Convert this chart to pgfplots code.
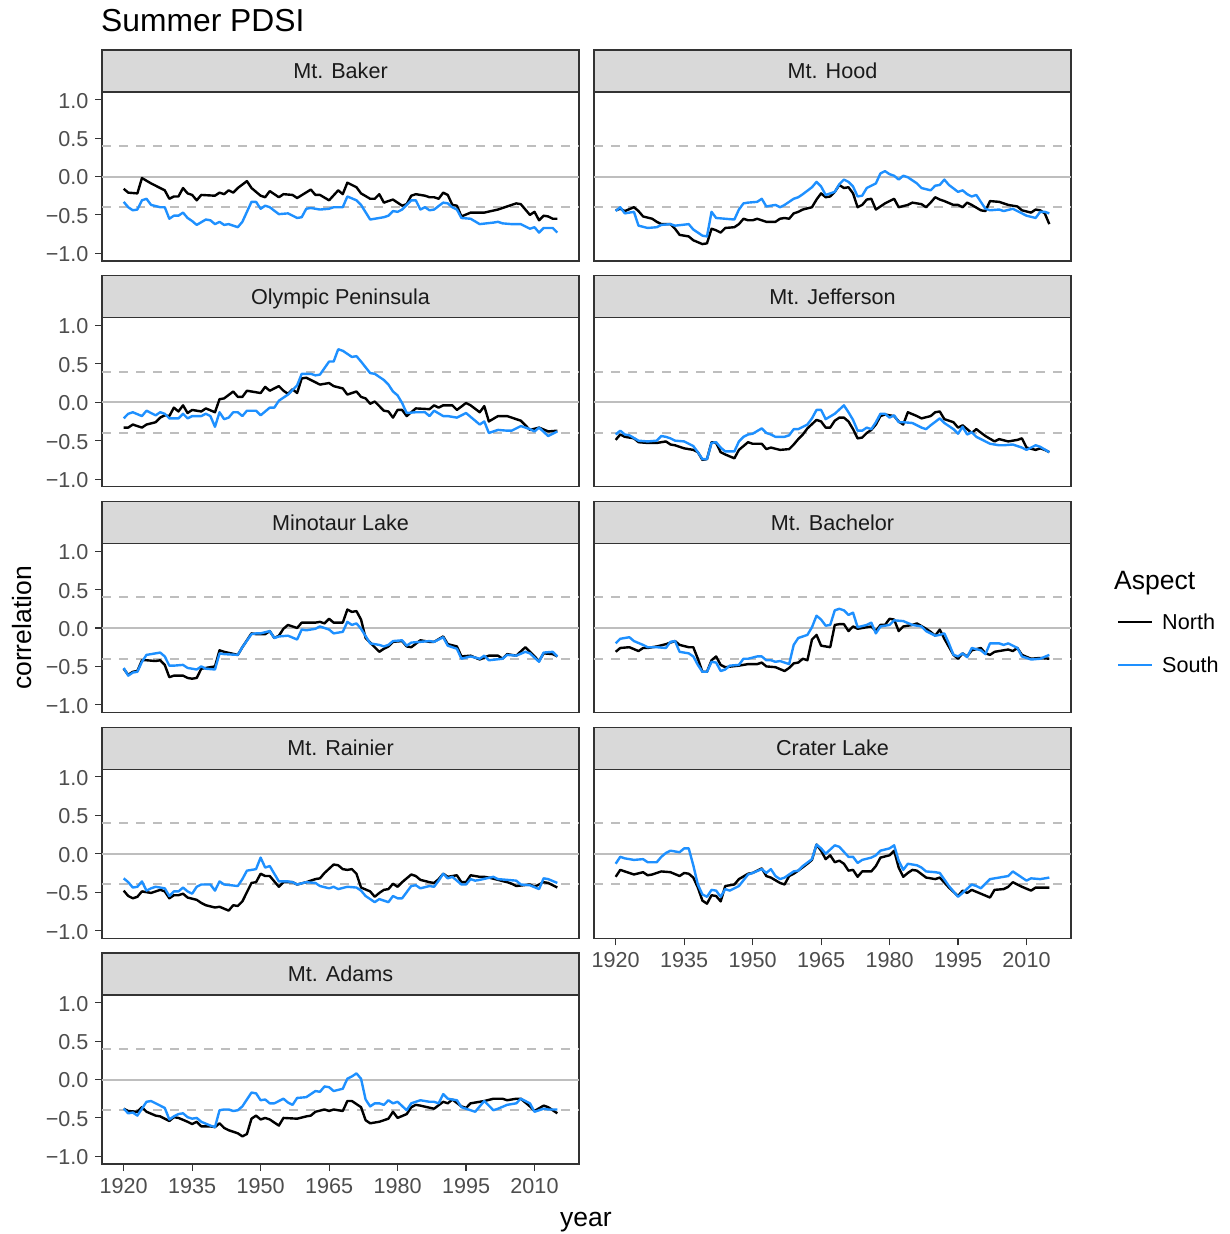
\documentclass[border=0pt]{standalone}
\usepackage{pgfplots}
\pgfplotsset{compat=1.18}
\usepackage{fontspec}
\setmainfont{Liberation Sans}
\definecolor{axisgray}{HTML}{333333}
\definecolor{labelgray}{HTML}{4D4D4D}
\definecolor{stripgray}{HTML}{D9D9D9}
\definecolor{striptext}{HTML}{1A1A1A}
\definecolor{refgray}{HTML}{BEBEBE}
\definecolor{southblue}{HTML}{1E90FF}
\newcommand\ticksize{\fontsize{21.6pt}{24pt}\selectfont}
\pgfplotsset{
  panel/.style={scale only axis, width=477pt, height=169pt,
    xmin=1915.25, xmax=2019.75, ymin=-1.1, ymax=1.1,
    anchor=north west,
    axis line style={draw=axisgray, line width=1.1pt},
    tick style={draw=axisgray, line width=1.1pt},
    major tick length=7pt, tick align=outside, tick pos=left,
    xtick=\empty, ytick=\empty,
    ticklabel style={font=\ticksize, text=labelgray},
    xticklabel style={yshift=-4pt},
    yticklabel style={xshift=-3pt, yshift=-1pt},
  },
  lefty/.style={ytick={-1,-0.5,0,0.5,1}, yticklabels={−1.0,−0.5,0.0,0.5,1.0}},
  bottomx/.style={xtick={1920,1935,1950,1965,1980,1995,2010},
    xticklabels={1920,1935,1950,1965,1980,1995,2010}},
  north/.style={black, line width=2.4pt, line join=round},
  south/.style={southblue, line width=2.4pt, line join=round},
}
\newcommand\refl{%
  \addplot[refgray, line width=2pt, forget plot] coordinates {(1915.25,0) (2019.75,0)};
  \addplot[refgray, line width=2pt, dash pattern=on 9pt off 8pt, forget plot] coordinates {(1915.25,0.4) (2019.75,0.4)};
  \addplot[refgray, line width=2pt, dash pattern=on 9pt off 8pt, forget plot] coordinates {(1915.25,-0.4) (2019.75,-0.4)};
}
\newcommand\strip[2]{%
  \draw[fill=stripgray, draw=axisgray, line width=1.1pt] (#1.north west) rectangle ([yshift=42pt]#1.north east);
  \node[font=\ticksize, text=striptext, anchor=base, inner sep=0pt] at ([yshift=13.3pt]#1.north) {#2};
}
\begin{document}
\begin{tikzpicture}
\useasboundingbox (0,0) rectangle (1229pt,-1234pt);

% Mt. Baker
\begin{axis}[panel, lefty, at={(102pt,-92pt)}, name=p1]
\refl
\addplot[north] coordinates {(1920,-0.16)(1921,-0.21)(1923,-0.22)(1924,-0.02)(1926,-0.09)(1929,-0.18)(1930,-0.29)(1931,-0.26)(1932,-0.26)(1933,-0.15)(1934,-0.22)(1935,-0.24)(1936,-0.31)(1937,-0.24)(1940,-0.25)(1941,-0.21)(1942,-0.23)(1943,-0.18)(1944,-0.21)(1945,-0.15)(1947,-0.06)(1948,-0.15)(1950,-0.25)(1951,-0.27)(1952,-0.19)(1954,-0.27)(1955,-0.23)(1957,-0.24)(1958,-0.28)(1961,-0.17)(1962,-0.24)(1963,-0.24)(1965,-0.31)(1967,-0.18)(1968,-0.23)(1969,-0.08)(1971,-0.14)(1972,-0.22)(1974,-0.29)(1975,-0.29)(1976,-0.23)(1977,-0.34)(1979,-0.30)(1981,-0.38)(1982,-0.36)(1983,-0.25)(1984,-0.23)(1986,-0.25)(1987,-0.27)(1988,-0.27)(1989,-0.29)(1990,-0.21)(1991,-0.24)(1992,-0.37)(1993,-0.38)(1994,-0.52)(1996,-0.47)(1999,-0.47)(2002,-0.43)(2004,-0.39)(2006,-0.35)(2007,-0.36)(2009,-0.50)(2010,-0.46)(2011,-0.57)(2012,-0.51)(2013,-0.52)(2014,-0.55)(2015,-0.55)};
\addplot[south] coordinates {(1920,-0.33)(1921,-0.40)(1922,-0.44)(1923,-0.43)(1924,-0.31)(1925,-0.29)(1926,-0.37)(1928,-0.40)(1929,-0.40)(1930,-0.55)(1931,-0.51)(1932,-0.51)(1933,-0.47)(1934,-0.54)(1935,-0.58)(1936,-0.63)(1938,-0.56)(1939,-0.57)(1940,-0.62)(1941,-0.59)(1942,-0.63)(1943,-0.62)(1945,-0.66)(1946,-0.59)(1948,-0.33)(1949,-0.33)(1950,-0.42)(1951,-0.38)(1952,-0.40)(1954,-0.49)(1956,-0.48)(1958,-0.54)(1959,-0.53)(1960,-0.42)(1961,-0.41)(1963,-0.43)(1965,-0.42)(1966,-0.40)(1968,-0.40)(1969,-0.26)(1971,-0.31)(1972,-0.37)(1974,-0.56)(1975,-0.55)(1977,-0.53)(1978,-0.51)(1979,-0.45)(1980,-0.46)(1981,-0.43)(1983,-0.31)(1984,-0.31)(1985,-0.43)(1986,-0.40)(1987,-0.44)(1988,-0.43)(1990,-0.34)(1991,-0.35)(1992,-0.40)(1993,-0.43)(1994,-0.54)(1996,-0.55)(1998,-0.62)(2001,-0.60)(2002,-0.59)(2003,-0.61)(2005,-0.62)(2007,-0.62)(2009,-0.68)(2010,-0.66)(2011,-0.73)(2012,-0.67)(2014,-0.67)(2015,-0.73)};
\end{axis}
\strip{p1}{Mt. Baker}

% Mt. Hood
\begin{axis}[panel, at={(594pt,-92pt)}, name=p2]
\refl
\addplot[north] coordinates {(1920,-0.44)(1921,-0.42)(1922,-0.45)(1924,-0.40)(1925,-0.45)(1926,-0.52)(1928,-0.55)(1929,-0.59)(1930,-0.62)(1932,-0.62)(1933,-0.68)(1934,-0.76)(1936,-0.78)(1937,-0.83)(1939,-0.88)(1940,-0.87)(1941,-0.68)(1942,-0.70)(1943,-0.73)(1944,-0.67)(1946,-0.66)(1947,-0.62)(1948,-0.55)(1949,-0.57)(1950,-0.57)(1951,-0.55)(1953,-0.59)(1955,-0.59)(1956,-0.55)(1957,-0.54)(1958,-0.55)(1959,-0.48)(1960,-0.46)(1961,-0.43)(1963,-0.40)(1964,-0.30)(1965,-0.22)(1966,-0.27)(1967,-0.26)(1968,-0.20)(1969,-0.11)(1970,-0.15)(1971,-0.14)(1972,-0.22)(1973,-0.40)(1974,-0.37)(1975,-0.30)(1976,-0.29)(1977,-0.43)(1979,-0.35)(1981,-0.29)(1982,-0.40)(1984,-0.37)(1985,-0.34)(1987,-0.36)(1988,-0.40)(1989,-0.34)(1990,-0.27)(1991,-0.30)(1992,-0.32)(1994,-0.37)(1995,-0.37)(1996,-0.40)(1997,-0.34)(1998,-0.37)(2000,-0.44)(2001,-0.45)(2002,-0.32)(2004,-0.33)(2006,-0.37)(2008,-0.39)(2009,-0.44)(2011,-0.47)(2012,-0.43)(2013,-0.44)(2014,-0.48)(2015,-0.62)};
\addplot[south] coordinates {(1920,-0.45)(1921,-0.40)(1922,-0.48)(1924,-0.46)(1925,-0.64)(1927,-0.67)(1929,-0.66)(1930,-0.63)(1932,-0.62)(1933,-0.64)(1936,-0.62)(1937,-0.69)(1939,-0.77)(1940,-0.78)(1941,-0.46)(1942,-0.54)(1944,-0.55)(1946,-0.56)(1947,-0.43)(1948,-0.35)(1949,-0.34)(1951,-0.33)(1952,-0.29)(1953,-0.39)(1955,-0.37)(1956,-0.40)(1957,-0.37)(1959,-0.29)(1960,-0.27)(1961,-0.23)(1963,-0.14)(1964,-0.07)(1965,-0.13)(1966,-0.24)(1968,-0.20)(1969,-0.10)(1970,-0.04)(1971,-0.07)(1972,-0.13)(1973,-0.26)(1974,-0.25)(1975,-0.15)(1977,-0.09)(1978,0.04)(1979,0.07)(1980,0.03)(1981,0.01)(1982,-0.04)(1983,0.01)(1984,-0.01)(1986,-0.09)(1987,-0.15)(1989,-0.18)(1990,-0.12)(1991,-0.11)(1992,-0.04)(1993,-0.11)(1995,-0.20)(1996,-0.18)(1997,-0.23)(1998,-0.26)(1999,-0.24)(2001,-0.42)(2002,-0.44)(2004,-0.43)(2005,-0.45)(2007,-0.42)(2008,-0.45)(2010,-0.51)(2012,-0.54)(2013,-0.46)(2014,-0.46)(2015,-0.48)};
\end{axis}
\strip{p2}{Mt. Hood}

% Olympic Peninsula
\begin{axis}[panel, lefty, at={(102pt,-317.75pt)}, name=p3]
\refl
\addplot[north] coordinates {(1920,-0.33)(1921,-0.33)(1922,-0.29)(1923,-0.31)(1924,-0.33)(1925,-0.29)(1927,-0.26)(1928,-0.20)(1929,-0.17)(1930,-0.18)(1931,-0.07)(1932,-0.12)(1933,-0.04)(1934,-0.14)(1935,-0.10)(1937,-0.12)(1938,-0.08)(1940,-0.13)(1941,0.04)(1942,0.05)(1944,0.14)(1945,0.07)(1946,0.07)(1947,0.15)(1949,0.13)(1950,0.12)(1951,0.20)(1952,0.15)(1954,0.21)(1955,0.15)(1956,0.11)(1957,0.17)(1958,0.12)(1959,0.31)(1960,0.32)(1961,0.29)(1963,0.23)(1965,0.25)(1966,0.21)(1968,0.18)(1969,0.10)(1971,0.14)(1972,0.07)(1973,0.05)(1974,-0.02)(1975,0.01)(1977,-0.11)(1978,-0.12)(1979,-0.20)(1980,-0.10)(1981,-0.10)(1982,-0.18)(1983,-0.13)(1984,-0.08)(1987,-0.09)(1988,-0.04)(1989,-0.07)(1990,-0.04)(1992,-0.04)(1993,-0.10)(1995,-0.01)(1996,-0.04)(1998,-0.13)(1999,-0.05)(2000,-0.25)(2002,-0.18)(2004,-0.18)(2006,-0.22)(2007,-0.24)(2009,-0.36)(2011,-0.33)(2013,-0.38)(2015,-0.37)};
\addplot[south] coordinates {(1920,-0.21)(1921,-0.15)(1922,-0.13)(1924,-0.18)(1925,-0.11)(1927,-0.17)(1928,-0.13)(1929,-0.15)(1930,-0.21)(1932,-0.21)(1933,-0.15)(1934,-0.21)(1935,-0.18)(1937,-0.18)(1938,-0.15)(1939,-0.18)(1940,-0.32)(1941,-0.13)(1942,-0.22)(1943,-0.20)(1944,-0.13)(1945,-0.13)(1946,-0.18)(1947,-0.11)(1949,-0.11)(1950,-0.17)(1952,-0.07)(1953,-0.07)(1954,0.02)(1956,0.10)(1958,0.22)(1959,0.37)(1961,0.37)(1962,0.35)(1963,0.36)(1965,0.53)(1966,0.53)(1967,0.69)(1968,0.67)(1970,0.59)(1971,0.60)(1972,0.53)(1974,0.38)(1975,0.37)(1977,0.29)(1978,0.23)(1979,0.14)(1980,0.09)(1981,-0.01)(1982,-0.14)(1984,-0.13)(1986,-0.13)(1987,-0.18)(1988,-0.11)(1990,-0.18)(1991,-0.18)(1993,-0.20)(1995,-0.14)(1996,-0.19)(1998,-0.29)(1999,-0.25)(2000,-0.40)(2002,-0.36)(2004,-0.37)(2005,-0.37)(2007,-0.31)(2009,-0.35)(2010,-0.38)(2011,-0.33)(2013,-0.44)(2015,-0.38)};
\end{axis}
\strip{p3}{Olympic Peninsula}

% Mt. Jefferson
\begin{axis}[panel, at={(594pt,-317.75pt)}, name=p4]
\refl
\addplot[north] coordinates {(1920,-0.49)(1921,-0.42)(1922,-0.45)(1924,-0.47)(1925,-0.52)(1927,-0.53)(1929,-0.53)(1931,-0.51)(1932,-0.55)(1933,-0.56)(1935,-0.60)(1937,-0.62)(1938,-0.65)(1939,-0.75)(1940,-0.74)(1941,-0.52)(1942,-0.53)(1943,-0.65)(1944,-0.68)(1946,-0.73)(1947,-0.62)(1949,-0.52)(1950,-0.54)(1952,-0.54)(1953,-0.61)(1954,-0.59)(1956,-0.62)(1958,-0.61)(1959,-0.55)(1960,-0.48)(1961,-0.42)(1962,-0.34)(1964,-0.23)(1965,-0.25)(1966,-0.33)(1967,-0.33)(1968,-0.24)(1969,-0.20)(1970,-0.20)(1971,-0.25)(1972,-0.35)(1973,-0.47)(1974,-0.46)(1975,-0.40)(1976,-0.36)(1977,-0.29)(1978,-0.18)(1979,-0.16)(1981,-0.18)(1982,-0.25)(1983,-0.29)(1984,-0.13)(1986,-0.18)(1987,-0.21)(1989,-0.18)(1990,-0.13)(1991,-0.12)(1992,-0.22)(1994,-0.26)(1995,-0.33)(1996,-0.30)(1997,-0.35)(1998,-0.40)(1999,-0.35)(2001,-0.44)(2003,-0.51)(2004,-0.48)(2006,-0.51)(2008,-0.49)(2009,-0.47)(2010,-0.59)(2012,-0.62)(2013,-0.60)(2014,-0.62)(2015,-0.65)};
\addplot[south] coordinates {(1920,-0.42)(1921,-0.37)(1922,-0.42)(1923,-0.43)(1925,-0.50)(1927,-0.51)(1929,-0.50)(1930,-0.44)(1931,-0.45)(1932,-0.47)(1933,-0.50)(1935,-0.51)(1937,-0.57)(1938,-0.65)(1939,-0.74)(1940,-0.74)(1941,-0.53)(1942,-0.52)(1943,-0.59)(1944,-0.64)(1946,-0.64)(1947,-0.51)(1948,-0.45)(1949,-0.42)(1950,-0.41)(1952,-0.34)(1953,-0.40)(1954,-0.42)(1955,-0.45)(1957,-0.45)(1958,-0.43)(1959,-0.35)(1960,-0.35)(1962,-0.29)(1963,-0.21)(1964,-0.10)(1965,-0.10)(1966,-0.22)(1968,-0.15)(1970,-0.04)(1971,-0.13)(1972,-0.23)(1973,-0.37)(1974,-0.37)(1975,-0.33)(1976,-0.35)(1977,-0.26)(1978,-0.15)(1979,-0.15)(1980,-0.20)(1981,-0.17)(1982,-0.26)(1983,-0.26)(1985,-0.27)(1987,-0.33)(1988,-0.35)(1989,-0.30)(1991,-0.21)(1992,-0.27)(1994,-0.35)(1995,-0.41)(1996,-0.32)(1997,-0.42)(1998,-0.39)(1999,-0.45)(2001,-0.51)(2002,-0.54)(2004,-0.56)(2005,-0.56)(2007,-0.55)(2009,-0.59)(2010,-0.62)(2012,-0.56)(2013,-0.58)(2015,-0.65)};
\end{axis}
\strip{p4}{Mt. Jefferson}

% Minotaur Lake
\begin{axis}[panel, lefty, at={(102pt,-543.5pt)}, name=p5]
\refl
\addplot[north] coordinates {(1920,-0.53)(1921,-0.61)(1922,-0.57)(1923,-0.56)(1924,-0.42)(1925,-0.42)(1927,-0.43)(1928,-0.42)(1929,-0.48)(1930,-0.64)(1931,-0.62)(1933,-0.62)(1934,-0.65)(1935,-0.66)(1936,-0.65)(1937,-0.53)(1938,-0.52)(1940,-0.50)(1941,-0.29)(1942,-0.31)(1945,-0.35)(1946,-0.25)(1948,-0.07)(1949,-0.08)(1951,-0.08)(1952,-0.04)(1953,-0.13)(1954,-0.10)(1955,-0.01)(1956,0.04)(1958,0.00)(1959,0.07)(1960,0.07)(1962,0.07)(1963,0.08)(1964,0.06)(1965,0.12)(1966,0.07)(1968,0.07)(1969,0.24)(1970,0.21)(1971,0.22)(1972,0.11)(1973,-0.13)(1975,-0.25)(1976,-0.31)(1977,-0.27)(1978,-0.24)(1979,-0.18)(1981,-0.17)(1982,-0.24)(1983,-0.25)(1985,-0.16)(1986,-0.17)(1987,-0.18)(1988,-0.18)(1990,-0.11)(1991,-0.21)(1993,-0.24)(1994,-0.37)(1996,-0.36)(1998,-0.41)(2000,-0.36)(2002,-0.36)(2003,-0.40)(2004,-0.34)(2006,-0.36)(2008,-0.25)(2009,-0.31)(2011,-0.43)(2012,-0.33)(2014,-0.34)(2015,-0.37)};
\addplot[south] coordinates {(1920,-0.52)(1921,-0.62)(1922,-0.58)(1923,-0.57)(1924,-0.44)(1925,-0.35)(1926,-0.34)(1928,-0.32)(1929,-0.37)(1930,-0.49)(1931,-0.49)(1933,-0.48)(1934,-0.52)(1936,-0.54)(1937,-0.50)(1938,-0.53)(1940,-0.54)(1941,-0.33)(1942,-0.34)(1945,-0.35)(1946,-0.25)(1948,-0.08)(1949,-0.07)(1950,-0.07)(1952,-0.04)(1953,-0.13)(1954,-0.11)(1956,-0.10)(1958,-0.15)(1959,-0.02)(1960,-0.03)(1962,-0.01)(1963,0.02)(1964,0.00)(1965,-0.02)(1966,-0.07)(1968,-0.05)(1969,0.08)(1970,0.04)(1971,0.06)(1972,-0.01)(1974,-0.20)(1976,-0.22)(1977,-0.24)(1978,-0.22)(1979,-0.17)(1981,-0.16)(1982,-0.23)(1983,-0.19)(1985,-0.18)(1987,-0.17)(1988,-0.18)(1990,-0.12)(1991,-0.23)(1993,-0.27)(1994,-0.40)(1996,-0.37)(1998,-0.40)(1999,-0.36)(2000,-0.42)(2003,-0.40)(2004,-0.35)(2006,-0.36)(2008,-0.31)(2009,-0.33)(2011,-0.44)(2012,-0.32)(2014,-0.31)(2015,-0.37)};
\end{axis}
\strip{p5}{Minotaur Lake}

% Mt. Bachelor
\begin{axis}[panel, at={(594pt,-543.5pt)}, name=p6]
\refl
\addplot[north] coordinates {(1920,-0.31)(1921,-0.26)(1923,-0.25)(1925,-0.30)(1926,-0.26)(1927,-0.26)(1929,-0.24)(1931,-0.21)(1933,-0.17)(1934,-0.22)(1936,-0.25)(1937,-0.25)(1938,-0.40)(1939,-0.57)(1940,-0.57)(1941,-0.42)(1942,-0.37)(1943,-0.48)(1944,-0.51)(1947,-0.49)(1949,-0.47)(1951,-0.47)(1952,-0.45)(1953,-0.50)(1955,-0.51)(1957,-0.56)(1958,-0.52)(1959,-0.46)(1960,-0.45)(1961,-0.40)(1962,-0.42)(1963,-0.15)(1964,-0.09)(1965,-0.23)(1967,-0.25)(1968,0.04)(1969,0.05)(1970,0.05)(1971,-0.04)(1972,0.02)(1973,-0.01)(1976,0.02)(1977,-0.04)(1978,0.04)(1979,0.04)(1980,0.12)(1981,0.11)(1982,-0.04)(1983,0.02)(1985,0.04)(1986,0.06)(1988,-0.01)(1989,-0.05)(1990,-0.10)(1991,-0.02)(1992,-0.14)(1994,-0.35)(1995,-0.40)(1996,-0.33)(1997,-0.37)(1998,-0.29)(2000,-0.26)(2001,-0.33)(2002,-0.35)(2003,-0.31)(2006,-0.28)(2007,-0.30)(2008,-0.26)(2009,-0.35)(2011,-0.40)(2013,-0.39)(2015,-0.40)};
\addplot[south] coordinates {(1920,-0.20)(1921,-0.14)(1923,-0.12)(1924,-0.17)(1926,-0.22)(1927,-0.25)(1929,-0.25)(1931,-0.26)(1932,-0.18)(1933,-0.17)(1934,-0.31)(1936,-0.33)(1937,-0.37)(1938,-0.48)(1939,-0.57)(1940,-0.57)(1941,-0.44)(1942,-0.45)(1943,-0.56)(1944,-0.54)(1945,-0.49)(1947,-0.48)(1948,-0.40)(1949,-0.40)(1951,-0.37)(1952,-0.37)(1953,-0.42)(1954,-0.42)(1955,-0.44)(1956,-0.43)(1958,-0.47)(1959,-0.22)(1960,-0.13)(1962,-0.09)(1963,0.01)(1964,0.16)(1965,0.11)(1966,0.03)(1967,0.04)(1968,0.23)(1969,0.25)(1970,0.23)(1971,0.17)(1972,0.20)(1973,0.01)(1975,0.04)(1976,0.07)(1977,-0.07)(1978,0.02)(1980,0.04)(1981,0.10)(1983,0.09)(1985,0.04)(1987,0.02)(1988,-0.04)(1990,-0.10)(1991,-0.09)(1992,-0.07)(1993,-0.20)(1994,-0.35)(1995,-0.37)(1996,-0.33)(1997,-0.38)(1998,-0.26)(2000,-0.29)(2001,-0.34)(2002,-0.20)(2004,-0.20)(2005,-0.22)(2006,-0.20)(2008,-0.26)(2009,-0.37)(2011,-0.41)(2013,-0.40)(2015,-0.35)};
\end{axis}
\strip{p6}{Mt. Bachelor}

% Mt. Rainier
\begin{axis}[panel, lefty, at={(102pt,-769.25pt)}, name=p7]
\refl
\addplot[north] coordinates {(1920,-0.48)(1921,-0.55)(1922,-0.58)(1923,-0.56)(1924,-0.49)(1926,-0.51)(1927,-0.49)(1928,-0.47)(1929,-0.49)(1930,-0.58)(1931,-0.54)(1932,-0.54)(1933,-0.52)(1934,-0.57)(1936,-0.60)(1937,-0.64)(1938,-0.67)(1940,-0.70)(1941,-0.69)(1943,-0.74)(1944,-0.67)(1945,-0.68)(1946,-0.62)(1948,-0.38)(1949,-0.37)(1950,-0.26)(1951,-0.29)(1952,-0.29)(1954,-0.43)(1955,-0.37)(1957,-0.37)(1958,-0.40)(1960,-0.37)(1962,-0.33)(1963,-0.32)(1964,-0.25)(1966,-0.14)(1967,-0.15)(1968,-0.20)(1969,-0.21)(1970,-0.20)(1971,-0.26)(1972,-0.44)(1974,-0.49)(1975,-0.56)(1976,-0.51)(1977,-0.47)(1978,-0.46)(1979,-0.39)(1980,-0.43)(1981,-0.37)(1983,-0.27)(1984,-0.29)(1985,-0.34)(1987,-0.37)(1988,-0.38)(1989,-0.33)(1990,-0.26)(1991,-0.30)(1993,-0.28)(1994,-0.37)(1995,-0.37)(1996,-0.28)(1998,-0.30)(1999,-0.30)(2000,-0.31)(2002,-0.34)(2004,-0.37)(2005,-0.39)(2006,-0.42)(2009,-0.40)(2010,-0.43)(2012,-0.37)(2013,-0.38)(2015,-0.44)};
\addplot[south] coordinates {(1920,-0.32)(1921,-0.37)(1922,-0.44)(1923,-0.43)(1924,-0.36)(1925,-0.48)(1926,-0.45)(1927,-0.43)(1929,-0.45)(1930,-0.55)(1931,-0.49)(1932,-0.49)(1933,-0.44)(1934,-0.49)(1935,-0.52)(1936,-0.43)(1937,-0.40)(1939,-0.40)(1940,-0.48)(1941,-0.36)(1942,-0.40)(1945,-0.42)(1946,-0.33)(1947,-0.22)(1949,-0.20)(1950,-0.05)(1951,-0.18)(1952,-0.16)(1953,-0.26)(1954,-0.36)(1956,-0.36)(1957,-0.37)(1958,-0.40)(1960,-0.37)(1962,-0.38)(1963,-0.42)(1965,-0.45)(1966,-0.43)(1967,-0.46)(1969,-0.43)(1971,-0.44)(1972,-0.48)(1973,-0.55)(1975,-0.63)(1976,-0.59)(1978,-0.63)(1979,-0.55)(1980,-0.58)(1981,-0.58)(1983,-0.42)(1984,-0.41)(1985,-0.45)(1987,-0.42)(1988,-0.43)(1989,-0.35)(1990,-0.26)(1991,-0.32)(1992,-0.30)(1994,-0.40)(1995,-0.40)(1996,-0.33)(1997,-0.35)(1998,-0.34)(2001,-0.30)(2002,-0.33)(2004,-0.34)(2006,-0.35)(2007,-0.40)(2009,-0.41)(2011,-0.46)(2012,-0.32)(2013,-0.33)(2015,-0.38)};
\end{axis}
\strip{p7}{Mt. Rainier}

% Crater Lake
\begin{axis}[panel, bottomx, at={(594pt,-769.25pt)}, name=p8]
\refl
\addplot[north] coordinates {(1920,-0.30)(1921,-0.21)(1922,-0.23)(1924,-0.27)(1926,-0.24)(1927,-0.28)(1928,-0.27)(1930,-0.23)(1932,-0.24)(1934,-0.29)(1935,-0.25)(1936,-0.26)(1937,-0.31)(1938,-0.44)(1939,-0.61)(1940,-0.65)(1941,-0.54)(1942,-0.55)(1943,-0.62)(1944,-0.42)(1946,-0.40)(1947,-0.33)(1949,-0.26)(1950,-0.25)(1952,-0.19)(1953,-0.29)(1954,-0.31)(1956,-0.38)(1957,-0.40)(1958,-0.29)(1959,-0.26)(1960,-0.22)(1962,-0.13)(1963,-0.08)(1964,0.12)(1965,0.04)(1966,-0.07)(1967,-0.02)(1968,-0.11)(1969,-0.09)(1970,-0.13)(1971,-0.22)(1972,-0.21)(1973,-0.30)(1974,-0.23)(1976,-0.23)(1977,-0.16)(1978,-0.05)(1980,-0.02)(1981,0.04)(1982,-0.18)(1983,-0.30)(1984,-0.25)(1985,-0.21)(1986,-0.22)(1988,-0.31)(1990,-0.33)(1991,-0.31)(1993,-0.44)(1995,-0.55)(1996,-0.48)(1997,-0.51)(1998,-0.47)(2000,-0.52)(2002,-0.57)(2003,-0.47)(2005,-0.46)(2006,-0.43)(2007,-0.37)(2009,-0.43)(2011,-0.48)(2012,-0.44)(2015,-0.44)};
\addplot[south] coordinates {(1920,-0.13)(1921,-0.04)(1922,-0.06)(1924,-0.08)(1926,-0.07)(1927,-0.11)(1929,-0.11)(1930,-0.04)(1931,0.01)(1932,0.04)(1934,0.02)(1935,0.07)(1936,0.07)(1937,-0.15)(1938,-0.40)(1939,-0.53)(1940,-0.56)(1941,-0.47)(1942,-0.48)(1943,-0.56)(1944,-0.46)(1945,-0.48)(1947,-0.42)(1949,-0.27)(1950,-0.25)(1952,-0.20)(1953,-0.25)(1954,-0.20)(1955,-0.29)(1956,-0.33)(1957,-0.31)(1959,-0.23)(1960,-0.22)(1961,-0.16)(1963,-0.07)(1964,0.12)(1965,0.07)(1966,0.00)(1968,0.11)(1969,0.09)(1971,-0.04)(1972,-0.04)(1973,-0.12)(1974,-0.08)(1976,-0.05)(1977,-0.02)(1978,0.04)(1980,0.07)(1981,0.11)(1982,-0.09)(1983,-0.21)(1984,-0.13)(1986,-0.15)(1987,-0.18)(1988,-0.23)(1990,-0.24)(1991,-0.25)(1993,-0.42)(1995,-0.56)(1996,-0.51)(1998,-0.40)(1999,-0.42)(2000,-0.45)(2002,-0.33)(2004,-0.31)(2006,-0.29)(2007,-0.23)(2009,-0.31)(2010,-0.35)(2011,-0.32)(2013,-0.33)(2015,-0.31)};
\end{axis}
\strip{p8}{Crater Lake}

% Mt. Adams
\begin{axis}[panel, lefty, bottomx, at={(102pt,-995pt)}, name=p9]
\refl
\addplot[north] coordinates {(1920,-0.38)(1921,-0.41)(1923,-0.42)(1924,-0.36)(1925,-0.42)(1927,-0.47)(1928,-0.48)(1930,-0.54)(1931,-0.49)(1932,-0.50)(1934,-0.55)(1935,-0.58)(1936,-0.55)(1937,-0.61)(1939,-0.61)(1940,-0.62)(1941,-0.57)(1942,-0.63)(1943,-0.66)(1945,-0.70)(1946,-0.74)(1947,-0.71)(1948,-0.51)(1949,-0.47)(1950,-0.52)(1951,-0.50)(1952,-0.52)(1954,-0.60)(1955,-0.50)(1958,-0.51)(1960,-0.48)(1961,-0.47)(1962,-0.42)(1964,-0.39)(1965,-0.41)(1966,-0.39)(1968,-0.41)(1969,-0.28)(1970,-0.28)(1972,-0.36)(1973,-0.53)(1974,-0.57)(1976,-0.55)(1978,-0.51)(1979,-0.42)(1980,-0.50)(1982,-0.45)(1983,-0.36)(1984,-0.33)(1985,-0.34)(1988,-0.38)(1990,-0.29)(1991,-0.31)(1992,-0.26)(1994,-0.35)(1995,-0.37)(1996,-0.31)(1998,-0.29)(1999,-0.28)(2001,-0.25)(2003,-0.25)(2004,-0.27)(2006,-0.25)(2007,-0.25)(2009,-0.35)(2010,-0.41)(2012,-0.34)(2013,-0.36)(2015,-0.44)};
\addplot[south] coordinates {(1920,-0.38)(1921,-0.44)(1922,-0.43)(1923,-0.47)(1924,-0.38)(1925,-0.29)(1926,-0.28)(1927,-0.31)(1928,-0.34)(1929,-0.37)(1930,-0.52)(1931,-0.48)(1932,-0.45)(1933,-0.44)(1934,-0.49)(1935,-0.51)(1936,-0.50)(1937,-0.55)(1939,-0.60)(1940,-0.62)(1941,-0.40)(1942,-0.39)(1943,-0.39)(1944,-0.41)(1945,-0.40)(1946,-0.35)(1948,-0.17)(1949,-0.18)(1950,-0.27)(1951,-0.26)(1952,-0.31)(1953,-0.31)(1955,-0.25)(1956,-0.30)(1957,-0.33)(1958,-0.24)(1960,-0.23)(1962,-0.15)(1963,-0.16)(1964,-0.09)(1965,-0.10)(1966,-0.15)(1968,-0.12)(1969,0.01)(1970,0.04)(1971,0.08)(1972,0.01)(1973,-0.26)(1974,-0.35)(1975,-0.31)(1976,-0.31)(1977,-0.33)(1978,-0.27)(1979,-0.31)(1980,-0.29)(1982,-0.40)(1983,-0.31)(1985,-0.27)(1987,-0.29)(1988,-0.29)(1989,-0.31)(1990,-0.19)(1991,-0.25)(1993,-0.27)(1994,-0.36)(1995,-0.38)(1997,-0.42)(1999,-0.28)(2001,-0.40)(2002,-0.38)(2004,-0.33)(2006,-0.31)(2007,-0.25)(2009,-0.31)(2010,-0.42)(2012,-0.38)(2013,-0.39)(2015,-0.39)};
\end{axis}
\strip{p9}{Mt. Adams}

% titles and labels
\node[anchor=west, inner sep=0pt, font=\fontsize{31.8pt}{36pt}\selectfont] at (101pt,-21pt) {Summer PDSI};
\node[rotate=90, inner sep=0pt, font=\fontsize{26.5pt}{30pt}\selectfont] at (22pt,-628pt) {correlation};
\node[anchor=base, inner sep=0pt, font=\fontsize{26.5pt}{30pt}\selectfont] at (586pt,-1226pt) {year};

% legend
\node[anchor=west, inner sep=0pt, font=\fontsize{26.5pt}{30pt}\selectfont] at (1114pt,-583pt) {Aspect};
\draw[black, line width=2.4pt] (1118pt,-622pt) -- (1152pt,-622pt);
\draw[southblue, line width=2.4pt] (1118pt,-665pt) -- (1152pt,-665pt);
\node[anchor=west, inner sep=0pt, font=\ticksize] at (1162pt,-622pt) {North};
\node[anchor=west, inner sep=0pt, font=\ticksize] at (1162pt,-665pt) {South};
\end{tikzpicture}
\end{document}
